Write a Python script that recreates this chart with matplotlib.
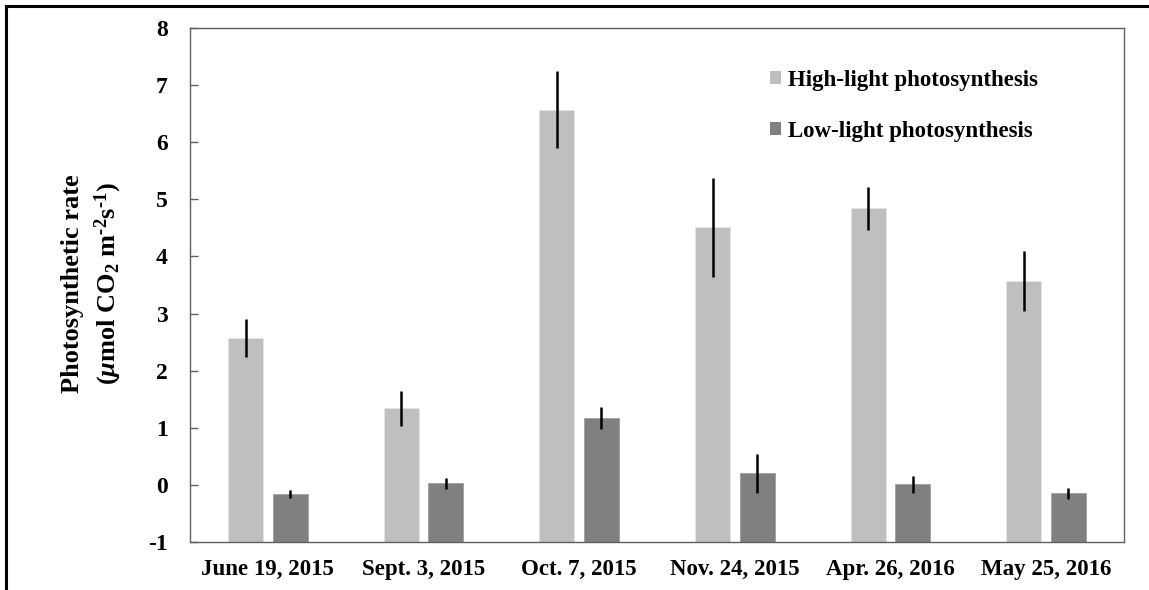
import numpy as np
import matplotlib
matplotlib.use("Agg")
import matplotlib.pyplot as plt
from matplotlib.lines import Line2D
from matplotlib.patches import Patch

plt.rcParams['font.family'] = ['Liberation Serif', 'DejaVu Serif']
plt.rcParams['font.weight'] = 'bold'
plt.rcParams['mathtext.fontset'] = 'custom'
plt.rcParams['mathtext.rm'] = 'Liberation Serif:bold'
plt.rcParams['mathtext.it'] = 'Liberation Serif:italic:bold'
plt.rcParams['mathtext.bf'] = 'Liberation Serif:bold'

# data
dates = ['June 19, 2015', 'Sept. 3, 2015', 'Oct. 7, 2015',
         'Nov. 24, 2015', 'Apr. 26, 2016', 'May 25, 2016']
high_light = [2.57, 1.34, 6.57, 4.51, 4.84, 3.57]
high_err = [0.33, 0.31, 0.67, 0.87, 0.375, 0.53]
low_light = [-0.16, 0.025, 1.17, 0.20, 0.007, -0.15]
low_err = [0.065, 0.09, 0.19, 0.335, 0.15, 0.10]
series_names = ['High-light photosynthesis', 'Low-light photosynthesis']

ymin, ymax = -1, 8
c_high = '#BFBFBF'
c_low = '#808080'

fig = plt.figure(figsize=(11.49, 5.90), dpi=100)
ax = fig.add_axes([0.1654, 0.0814, 0.8128, 0.8711])

x = np.arange(len(dates))
w = 0.225
off = 0.143
hi = np.array(high_light)
lo = np.array(low_light)

# bars start at the bottom of the axis (-1), like the original
ax.bar(x - off, hi - ymin, bottom=ymin, width=w, color=c_high,
       edgecolor='#E6E6E6', linewidth=0.6, zorder=2)
ax.bar(x + off, lo - ymin, bottom=ymin, width=w, color=c_low,
       edgecolor='#A0A0A0', linewidth=0.6, zorder=2)
ax.errorbar(x - off, hi, yerr=high_err, fmt='none', ecolor='black',
            elinewidth=1.8, capsize=0, zorder=3)
ax.errorbar(x + off, lo, yerr=low_err, fmt='none', ecolor='black',
            elinewidth=1.8, capsize=0, zorder=3)

ax.set_xlim(-0.5, len(dates) - 0.5)
ax.set_ylim(ymin, ymax)
ax.set_yticks(range(ymin, ymax + 1))
ax.set_yticklabels([str(v) for v in range(ymin, ymax + 1)], fontsize=17,
                   fontweight='bold')
ax.set_xticks(x)
ax.set_xticklabels(dates, fontsize=16.5, fontweight='bold')
ax.tick_params(axis='y', direction='in', length=6, width=1, color='#606060', pad=16)
ax.tick_params(axis='x', length=0, pad=12)
for s in ax.spines.values():
    s.set_color('#606060')
    s.set_linewidth(1)

fig.text(0.0635, 0.52, 'Photosynthetic rate', rotation=90, fontsize=19,
         fontweight='bold', ha='center', va='center')
fig.text(0.094, 0.52, r'($\mu$mol CO$_2$ m$^{\text{-2}}$s$^{\text{-1}}$)', rotation=90,
         fontsize=19, fontweight='bold', ha='center', va='center')

handles = [Patch(facecolor=c_high, edgecolor='none'),
           Patch(facecolor=c_low, edgecolor='none')]
leg = ax.legend(handles, series_names, loc='upper left',
                bbox_to_anchor=(0.670, 0.882), bbox_transform=fig.transFigure,
                frameon=False, handlelength=0.5, handleheight=0.5,
                handletextpad=0.3, labelspacing=1.32, borderpad=0, borderaxespad=0,
                prop={'weight': 'bold', 'size': 16.5})

# outer frame (top and left edges visible in the crop)
fig.add_artist(Line2D([6 / 1149, 6 / 1149], [0, 1 - 6 / 590], color='black', lw=2.2))
fig.add_artist(Line2D([6 / 1149, 1], [1 - 6 / 590, 1 - 6 / 590], color='black', lw=2.2))

fig.savefig('out.png', dpi=100)
